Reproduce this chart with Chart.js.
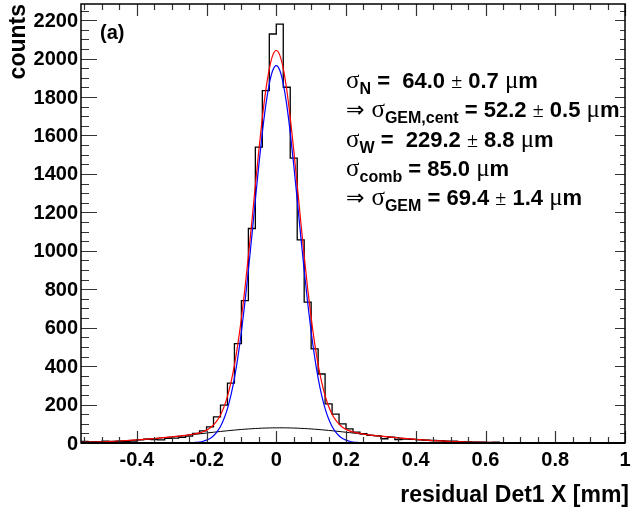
<!DOCTYPE html>
<html>
<head>
<meta charset="utf-8">
<script src="https://cdn.jsdelivr.net/npm/chart.js@4.4.1/dist/chart.umd.min.js"></script>
<style>
html,body{margin:0;padding:0;background:#fff;}
#wrap{width:633px;height:513px;position:relative;}
</style>
</head>
<body>
<div id="wrap"><canvas id="c" width="633" height="513"></canvas></div>
<script>
// ---- Data ----
const binLeftEdges = [-0.56,-0.54,-0.52,-0.50,-0.48,-0.46,-0.44,-0.42,-0.40,-0.38,-0.36,-0.34,-0.32,-0.30,-0.28,-0.26,-0.24,-0.22,-0.20,-0.18,-0.16,-0.14,-0.12,-0.10,-0.08,-0.06,-0.04,-0.02,
  0.00,0.02,0.04,0.06,0.08,0.10,0.12,0.14,0.16,0.18,0.20,0.22,0.24,0.26,0.28,0.30,0.32,0.34,0.36,0.38,0.40,0.42,0.44,0.46,0.48,0.50,0.52,0.54,0.56,0.58,0.60,0.62,0.64,0.66,0.68,0.70,0.72,0.74,0.76,0.78,0.80,0.82,0.84,0.86,0.88,0.90,0.92,0.94,0.96,0.98];
const histLastEdge = 1.0;
const histCounts = [8,6,7,9,5,8,7,10,17,20,18,16,24,25,30,36,50,63,84,136,197,312,517,741,1116,1539,1833,2128,
  2179,1851,1482,1057,733,490,359,204,150,100,74,57,48,40,37,22,30,18,20,19,17,15,13,12,9,9,7,6,5,4,3,4,2,1,2,1,0,1,0,1,0,0,1,0,0,0,0,0,0,0];

const curveX = [-0.56,-0.50,-0.45,-0.40,-0.35,-0.30,-0.26,-0.24,-0.23,-0.22,-0.21,-0.20,-0.19,-0.18,-0.17,-0.16,-0.15,-0.14,-0.13,-0.12,-0.11,-0.10,-0.09,-0.08,-0.07,-0.06,-0.05,-0.04,-0.03,-0.02,-0.01,
  0.00,0.01,0.02,0.03,0.04,0.05,0.06,0.07,0.08,0.09,0.10,0.11,0.12,0.13,0.14,0.15,0.16,0.17,0.18,0.19,0.20,0.21,0.22,0.23,0.24,0.26,0.30,0.35,0.40,0.45,0.50,0.55,0.60,0.70,0.80,0.90,1.00];
const narrowFit = [0,0,0,0,0,0,0.5,2,3,5,9,15,24,38,58,86,126,179,249,338,448,579,730,899,1079,1265,1447,1615,1759,1869,1939,
  1963,1939,1869,1759,1615,1447,1265,1079,899,730,579,448,338,249,179,126,86,58,38,24,15,9,5,3,2,0.5,0,0,0,0,0,0,0,0,0,0,0];
const wideFit = [3.6,6.6,10.5,15.9,23.0,31.6,39.4,43.5,45.6,47.7,49.8,51.9,53.9,56.0,58.0,60.0,61.9,63.7,65.5,67.2,68.9,70.4,71.8,73.1,74.3,75.4,76.3,77.1,77.8,78.3,78.7,
  78.9,79.0,78.9,78.7,78.3,77.8,77.1,76.3,75.4,74.3,73.1,71.8,70.4,68.9,67.2,65.5,63.7,61.9,60.0,58.0,56.0,53.9,51.9,49.8,47.7,43.5,35.4,26.2,18.5,12.5,8.0,4.9,2.9,0.8,0.2,0,0];
const totalFit = [3.6,6.6,10.5,15.9,23.0,31.6,39.9,45.5,48.6,52.7,58.8,66.9,77.9,94,116,146,188,243,315,405,517,649,802,972,1153,1340,1523,1692,1837,1947,2018,
  2042,2018,1948,1838,1693,1525,1342,1155,974,804,652,520,408,318,246,191,150,120,98,82,71,63,57,53,50,44,35.4,26.2,18.5,12.5,8.0,4.9,2.9,0.8,0.2,0,0];

const xTickValues = [-0.4,-0.2,0,0.2,0.4,0.6,0.8,1];
const xTickLabels = ['-0.4','-0.2','0','0.2','0.4','0.6','0.8','1'];
const yTickValues = [0,200,400,600,800,1000,1200,1400,1600,1800,2000,2200];
const yTickLabels = ['0','200','400','600','800','1000','1200','1400','1600','1800','2000','2200'];
const xTitle = 'residual Det1 X [mm]';
const yTitle = 'counts';
const panelLabel = '(a)';
const infoLines = [
  [['σ','sym'],['N','sub'],[' =  64.0 ','b'],['±','pm'],[' 0.7 ','b'],['μ','sym'],['m','b']],
  [['⇒ ','arr'],['σ','sym'],['GEM,cent','sub'],[' = 52.2 ','b'],['±','pm'],[' 0.5 ','b'],['μ','sym'],['m','b']],
  [['σ','sym'],['W','sub'],[' =  229.2 ','b'],['±','pm'],[' 8.8 ','b'],['μ','sym'],['m','b']],
  [['σ','sym'],['comb','sub'],[' = 85.0 ','b'],['μ','sym'],['m','b']],
  [['⇒ ','arr'],['σ','sym'],['GEM','sub'],[' = 69.4 ','b'],['±','pm'],[' 1.4 ','b'],['μ','sym'],['m','b']]
];

// ---- build datasets ----
const histPts = binLeftEdges.map((e,i)=>({x:e,y:histCounts[i]}));
histPts.push({x:histLastEdge,y:histCounts[histCounts.length-1]});
const mk = arr => curveX.map((x,i)=>({x:x,y:arr[i]}));

const BOLD = 'bold 20px "Liberation Sans", Arial, sans-serif';

const rootAxes = {
  id:'rootAxes',
  afterDatasetsDraw(chart){
    const ctx = chart.ctx, a = chart.chartArea;
    const xs = chart.scales.x, ys = chart.scales.y;
    ctx.save();
    // ticks
    ctx.strokeStyle = '#333';
    ctx.lineWidth = 1.2;
    ctx.beginPath();
    for (let v = -0.55; v <= 1.0001; v += 0.05) {
      const px = Math.round(xs.getPixelForValue(v)) + 0.5;
      const major = Math.abs(Math.round(v*5) - v*5) < 1e-6;
      const L = major ? 12 : 6;
      ctx.moveTo(px, a.bottom); ctx.lineTo(px, a.bottom - L);
      ctx.moveTo(px, a.top); ctx.lineTo(px, a.top + L);
    }
    for (let v = 0; v <= 2280; v += 50) {
      const py = Math.round(ys.getPixelForValue(v)) + 0.5;
      const major = v % 200 === 0;
      ctx.moveTo(a.left, py); ctx.lineTo(a.left + (major ? 16 : 8), py);
      ctx.moveTo(a.right, py); ctx.lineTo(a.right - (major ? 10 : 5), py);
    }
    ctx.stroke();
    // frame
    ctx.strokeStyle = '#000';
    ctx.lineWidth = 1.5;
    ctx.strokeRect(a.left, a.top, a.right - a.left, a.bottom - a.top);
    ctx.lineWidth = 2;
    ctx.beginPath(); ctx.moveTo(a.left, a.bottom); ctx.lineTo(a.right, a.bottom); ctx.stroke();
    // tick labels
    ctx.fillStyle = '#000';
    ctx.font = BOLD;
    ctx.textAlign = 'center'; ctx.textBaseline = 'top';
    xTickValues.forEach((v,i)=>{ ctx.fillText(xTickLabels[i], xs.getPixelForValue(v), a.bottom + 7); });
    ctx.textAlign = 'right'; ctx.textBaseline = 'middle';
    yTickValues.forEach((v,i)=>{ ctx.fillText(yTickLabels[i], a.left - 3, ys.getPixelForValue(v) + 1); });
    // titles
    ctx.font = 'bold 23px "Liberation Sans", Arial, sans-serif';
    ctx.textAlign = 'right'; ctx.textBaseline = 'alphabetic';
    ctx.fillText(xTitle, 629, 502);
    ctx.save();
    ctx.translate(25, 4); ctx.rotate(-Math.PI/2);
    ctx.textAlign = 'right';
    ctx.fillText(yTitle, 0, 0);
    ctx.restore();
    // panel label
    ctx.font = 'bold 20px "Liberation Sans", Arial, sans-serif';
    ctx.textAlign = 'left';
    ctx.fillText(panelLabel, 100, 39);
    // info text
    const baselines = [88,117,147,176,205];
    const fonts = {
      b:'bold 22px "Liberation Sans", Arial, sans-serif',
      sub:'bold 16px "Liberation Sans", Arial, sans-serif',
      sym:'25px "Liberation Serif", "DejaVu Serif", serif',
      pm:'20px "Liberation Serif", "DejaVu Serif", serif',
      arr:'22px "DejaVu Sans", sans-serif'
    };
    infoLines.forEach((segs,li)=>{
      let x = 346, y = baselines[li];
      segs.forEach(([t,s])=>{
        ctx.font = fonts[s];
        const dy = s==='sub' ? 6 : 0;
        ctx.fillText(t, x, y + dy);
        x += ctx.measureText(t).width;
      });
    });
    ctx.restore();
  }
};

new Chart(document.getElementById('c'), {
  type:'line',
  data:{datasets:[
    {label:'data', data:histPts, stepped:true, borderColor:'#000', borderWidth:1.3, pointRadius:0, fill:false, order:4},
    {label:'wide', data:mk(wideFit), borderColor:'#000', borderWidth:1, pointRadius:0, cubicInterpolationMode:'monotone', fill:false, order:3},
    {label:'total', data:mk(totalFit), borderColor:'#ff0000', borderWidth:1.2, pointRadius:0, cubicInterpolationMode:'monotone', fill:false, order:2},
    {label:'narrow', data:mk(narrowFit), borderColor:'#0000ff', borderWidth:1.2, pointRadius:0, cubicInterpolationMode:'monotone', fill:false, order:1}
  ]},
  options:{
    responsive:false, animation:false, devicePixelRatio:1,
    layout:{padding:{left:81,right:8,top:4,bottom:70}},
    plugins:{legend:{display:false}, tooltip:{enabled:false}},
    scales:{
      x:{type:'linear', min:-0.56, max:1.0, display:false},
      y:{type:'linear', min:0, max:2284, display:false}
    }
  },
  plugins:[rootAxes]
});
</script>
</body>
</html>
